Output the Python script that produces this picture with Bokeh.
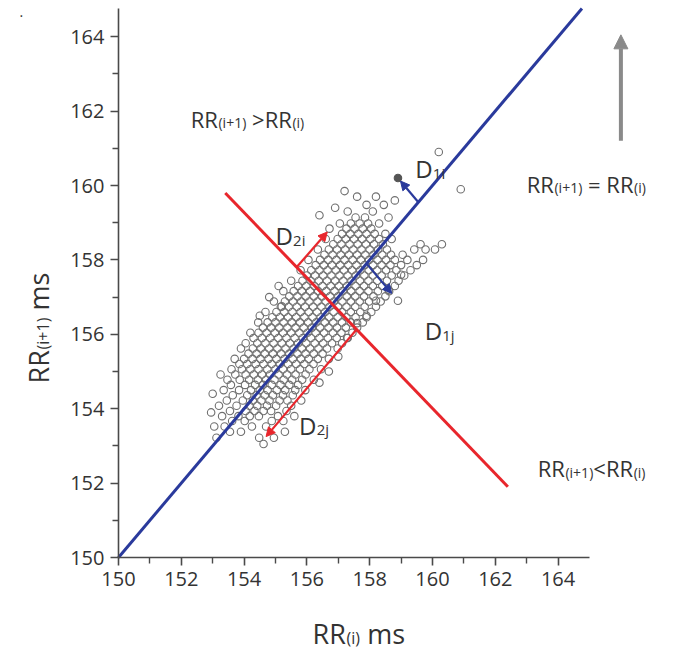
import math
from bokeh.plotting import figure
from bokeh.models import Range1d, FixedTicker, Label, Arrow, NormalHead
from bokeh.embed import file_html
from bokeh.resources import INLINE

# ---------------- data ----------------
# successive RR intervals, grouped by RR(i+1) row
row_rr_next = [153.05, 153.22, 153.38, 153.52, 153.67, 153.8, 153.94, 154.08, 154.22, 154.36,
               154.5, 154.64, 154.78, 154.92, 155.06, 155.2, 155.34, 155.48, 155.62, 155.76,
               155.9, 156.04, 156.18, 156.32, 156.46, 156.6, 156.74, 156.88, 157.02, 157.16,
               157.3, 157.44, 157.58, 157.72, 157.86, 158.0, 158.14, 158.28, 158.42, 158.56,
               158.7, 158.84, 158.98, 159.14, 159.3, 159.48, 159.7, 159.9, 160.9]
row_rr_i = [
    [154.62],
    [153.12, 154.48, 154.95],
    [153.55, 153.9, 155.3],
    [153.05, 153.38, 154.25, 154.7],
    [153.62, 154.02, 154.88, 155.25],
    [153.3, 153.82, 154.18, 154.47, 155.08, 155.6],
    [153.55, 154.05, 154.33, 154.62, 154.86, 155.35],
    [153.2, 153.76, 154.17, 154.42, 154.73, 155.02, 155.5],
    [153.45, 153.96, 154.28, 154.55, 154.81, 155.13, 155.38, 155.82],
    [153.64, 154.1, 154.4, 154.66, 154.92, 155.24, 155.55],
    [153.35, 153.84, 154.22, 154.5, 154.75, 155.04, 155.31, 155.63, 155.95],
    [153.58, 154.03, 154.35, 154.6, 154.88, 155.16, 155.44, 155.72],
    [153.47, 153.86, 154.16, 154.44, 154.7, 154.97, 155.26, 155.53, 155.85, 156.22],
    [153.25, 153.72, 154.05, 154.31, 154.57, 154.83, 155.1, 155.37, 155.64, 155.96],
    [153.6, 153.93, 154.2, 154.46, 154.74, 155.0, 155.24, 155.5, 155.78, 156.08, 156.45],
    [153.85, 154.1, 154.37, 154.62, 154.88, 155.14, 155.4, 155.66, 155.92, 156.21],
    [153.7, 154.0, 154.27, 154.52, 154.78, 155.03, 155.29, 155.55, 155.81, 156.06, 156.35, 156.7],
    [154.14, 154.4, 154.66, 154.92, 155.18, 155.44, 155.7, 155.96, 156.22, 156.5],
    [153.9, 154.28, 154.53, 154.8, 155.06, 155.32, 155.58, 155.84, 156.1, 156.37, 156.64, 156.98],
    [154.05, 154.42, 154.68, 154.94, 155.2, 155.46, 155.72, 155.98, 156.25, 156.52, 156.8, 157.12],
    [154.3, 154.57, 154.83, 155.09, 155.35, 155.61, 155.87, 156.13, 156.4, 156.67, 156.95, 157.28],
    [154.2, 154.46, 154.72, 154.98, 155.24, 155.5, 155.76, 156.02, 156.28, 156.55, 156.83, 157.1, 157.45],
    [154.6, 154.86, 155.12, 155.38, 155.64, 155.9, 156.16, 156.42, 156.69, 156.96, 157.24, 157.6],
    [154.45, 154.75, 155.0, 155.26, 155.52, 155.78, 156.04, 156.3, 156.57, 156.84, 157.12, 157.4, 157.78],
    [154.9, 155.14, 155.4, 155.66, 155.92, 156.18, 156.44, 156.71, 156.98, 157.26, 157.55, 157.9],
    [154.68, 155.03, 155.28, 155.54, 155.8, 156.06, 156.32, 156.58, 156.85, 157.12, 157.4, 157.7, 158.05],
    [155.17, 155.42, 155.68, 155.94, 156.2, 156.46, 156.72, 156.99, 157.26, 157.54, 157.84, 158.2],
    [154.95, 155.3, 155.56, 155.82, 156.08, 156.34, 156.6, 156.86, 157.13, 157.4, 157.68, 157.98, 158.35],
    [155.44, 155.7, 155.96, 156.22, 156.48, 156.74, 157.0, 157.27, 157.54, 157.82, 158.12, 158.5],
    [155.25, 155.58, 155.84, 156.1, 156.36, 156.62, 156.88, 157.14, 157.41, 157.68, 157.96, 158.26, 158.62],
    [155.72, 155.98, 156.24, 156.5, 156.76, 157.02, 157.28, 157.55, 157.82, 158.1, 158.4, 158.8],
    [155.5, 155.86, 156.12, 156.38, 156.64, 156.9, 157.16, 157.42, 157.69, 157.96, 158.24, 158.55, 158.92],
    [156.0, 156.26, 156.52, 156.78, 157.04, 157.3, 157.56, 157.83, 158.1, 158.38, 158.7, 159.1],
    [155.8, 156.14, 156.4, 156.66, 156.92, 157.18, 157.44, 157.7, 157.97, 158.24, 158.52, 158.85, 159.3],
    [156.28, 156.54, 156.8, 157.06, 157.32, 157.58, 157.84, 158.11, 158.38, 158.66, 159.0, 159.5],
    [156.05, 156.42, 156.68, 156.94, 157.2, 157.46, 157.72, 157.98, 158.25, 158.52, 158.8, 159.2, 159.7],
    [156.56, 156.82, 157.08, 157.34, 157.6, 157.86, 158.12, 158.4, 158.68, 159.05],
    [156.35, 156.7, 156.96, 157.22, 157.48, 157.74, 158.0, 158.27, 158.55, 159.42, 159.78, 160.08],
    [156.84, 157.1, 157.36, 157.62, 157.88, 158.14, 158.42, 159.62, 160.3],
    [156.6, 156.98, 157.24, 157.5, 157.76, 158.02, 158.3, 158.7],
    [157.12, 157.38, 157.64, 157.9, 158.16, 158.5],
    [156.72, 157.26, 157.52, 157.78, 158.05],
    [157.05, 157.4, 157.68, 157.95, 158.3],
    [157.55, 157.85, 158.6],
    [157.3, 158.1],
    [157.9, 158.45],
    [158.2],
    [160.9],
    [160.2],
]
# scattered points at the edge of the cloud
fringe_rr_i = [157.3, 157.6, 157.0, 156.7, 157.9, 158.2, 158.6, 159.0, 156.4, 158.9,
               155.1, 154.8, 155.2, 154.5,
               156.4, 156.9, 157.6, 158.8, 157.2,
               153.0, 152.95]
fringe_rr_next = [155.9, 156.3, 155.4, 155.0, 156.5, 156.9, 157.2, 157.6, 154.7, 156.9,
                  157.3, 157.0, 156.75, 156.5,
                  159.2, 159.4, 159.7, 159.6, 159.85,
                  154.4, 153.9]
marked_rr_i = [158.9]          # the point used for D1i (drawn filled)
marked_rr_next = [160.2]

identity_x = [150.0, 164.76]
identity_y = [150.0, 164.76]
perp_x = [153.4, 162.4]
perp_y = [159.8, 151.9]

x_ticks = [150, 152, 154, 156, 158, 160, 162, 164]
x_minor = [151, 153, 155, 157, 159, 161, 163]
y_ticks = [150, 152, 154, 156, 158, 160, 162, 164]
y_minor = [151, 153, 155, 157, 159, 161, 163]

# arrows: (x_start, y_start, x_end, y_end)
d1i_arrow = (159.55, 159.55, 158.98, 160.12)
d1j_arrow = (157.9, 157.9, 158.7, 157.1)
d2i_arrow = (155.67, 157.8, 156.65, 158.75)
d2j_arrow = (157.58, 156.13, 154.7, 153.25)
gray_arrow = (166.0, 161.2, 166.0, 164.05)

rr_i = [x for xs in row_rr_i for x in xs] + fringe_rr_i
rr_next = [y for y, xs in zip(row_rr_next, row_rr_i) for _ in xs] + fringe_rr_next

# ---------------- figure ----------------
FONT = "Open Sans"
TXT = "#333333"
BLUE = "#2a3a9c"
RED = "#e8262c"
GRAY = "#8a8a8a"
AX = "#4a4a4a"

# frame spans the whole canvas; axes are pinned at x=150 / y=150
PX_X, PX_Y = 31.4, 37.2          # pixels per ms
OX, OY = 118, 557                # pixel position of (150, 150)
x_lo = 150 - OX / PX_X
x_hi = 150 + (692 - OX) / PX_X
y_lo = 150 - (655 - OY) / PX_Y
y_hi = 150 + OY / PX_Y

p = figure(width=692, height=655, x_range=Range1d(x_lo, x_hi), y_range=Range1d(y_lo, y_hi),
           output_backend="svg", toolbar_location=None,
           min_border_left=0, min_border_right=0, min_border_top=0, min_border_bottom=0)
p.outline_line_color = None
p.grid.visible = False
p.background_fill_color = "white"
p.border_fill_color = "white"

p.xaxis.ticker = FixedTicker(ticks=x_ticks, minor_ticks=x_minor)
p.yaxis.ticker = FixedTicker(ticks=y_ticks, minor_ticks=y_minor)
p.xaxis.fixed_location = 150
p.yaxis.fixed_location = 150
p.xaxis.bounds = (150, 165)
p.yaxis.bounds = (150, 164.76)
for ax in (p.xaxis, p.yaxis):
    ax.axis_line_color = AX
    ax.axis_line_width = 1.6
    ax.major_tick_line_color = AX
    ax.major_tick_line_width = 1.6
    ax.minor_tick_line_color = AX
    ax.minor_tick_line_width = 1.4
    ax.major_tick_in = 0
    ax.major_tick_out = 8
    ax.minor_tick_in = 0
    ax.minor_tick_out = 6
    ax.major_label_text_font = FONT
    ax.major_label_text_font_size = "20px"
    ax.major_label_text_color = TXT
    ax.major_label_standoff = 6

p.scatter(rr_i, rr_next, marker="circle", size=7.5, fill_color=None,
          line_color="#707070", line_width=1.1)
p.scatter(marked_rr_i, marked_rr_next, marker="circle", size=7.5, fill_color="#555555",
          line_color="#555555", line_width=1.1)

p.line(identity_x, identity_y, line_color=BLUE, line_width=3)
p.line(perp_x, perp_y, line_color=RED, line_width=3)


def add_arrow(coords, color, width=2.2, head=9):
    xs, ys, xe, ye = coords
    p.add_layout(Arrow(end=NormalHead(size=head, fill_color=color, line_color=color, line_width=1),
                       x_start=xs, y_start=ys, x_end=xe, y_end=ye,
                       line_color=color, line_width=width))


add_arrow(d1i_arrow, BLUE)
add_arrow(d1j_arrow, BLUE)
add_arrow(d2i_arrow, RED)
add_arrow(d2j_arrow, RED)
add_arrow(gray_arrow, GRAY, width=4, head=14)

# ---------------- texts with subscripts ----------------
W = {'R': .631, '(': .296, ')': .296, 'i': .258, '+': .571, '1': .571, ' ': .26,
     'm': .925, 's': .479, '=': .571, '>': .571, '<': .571, 'D': .734, 'j': .258, '2': .571}


def add_rich(x, y, parts, angle=0.0, dx=0.0, dy=0.0):
    off = 0.0
    for text, size, drop in parts:
        w = sum(W.get(c, .55) for c in text) * size
        shown = text.replace(" ", "\u00a0")
        if angle == 0.0:
            lab = Label(x=x, y=y, x_offset=dx + off, y_offset=dy - drop, text=shown)
        else:
            lab = Label(x=x, y=y, x_offset=dx + drop, y_offset=dy + off, text=shown, angle=angle)
        lab.text_font = FONT
        lab.text_font_size = f"{size}px"
        lab.text_color = TXT
        lab.text_baseline = "alphabetic"
        lab.text_align = "left"
        p.add_layout(lab)
        off += w


BIG, SUB, SD = 22, 14, 4
add_rich(152.3, 161.8, [("RR", BIG, 0), ("(i+1)", SUB, SD), (" >RR", BIG, 0), ("(i)", SUB, SD)])
add_rich(163.0, 160.05, [("RR", BIG, 0), ("(i+1)", SUB, SD), (" = RR", BIG, 0), ("(i)", SUB, SD)])
add_rich(163.35, 152.4, [("RR", BIG, 0), ("(i+1)", SUB, SD), ("<RR", BIG, 0), ("(i)", SUB, SD)])

DB, DS = 24, 15
add_rich(159.45, 160.45, [("D", DB, 0), ("1i", DS, 4)])
add_rich(159.75, 156.1, [("D", DB, 0), ("1j", DS, 4)])
add_rich(155.0, 158.65, [("D", DB, 0), ("2i", DS, 4)])
add_rich(155.75, 153.55, [("D", DB, 0), ("2j", DS, 4)])

# axis titles
add_rich(150.0, 150.0, [("RR", 27, 0), ("(i)", 16, 4), (" ms", 27, 0)], dx=194, dy=-76)
add_rich(150.0, 150.0, [("RR", 27, 0), ("(i+1)", 16, 4), (" ms", 27, 0)],
         angle=math.pi / 2, dx=-80, dy=174)

dot = Label(x=150.0, y=164.76, x_offset=-99, y_offset=-9, text=".", text_font=FONT,
            text_font_size="14px", text_color=TXT)
p.add_layout(dot)

open("out.html", "w").write(file_html(p, INLINE))
